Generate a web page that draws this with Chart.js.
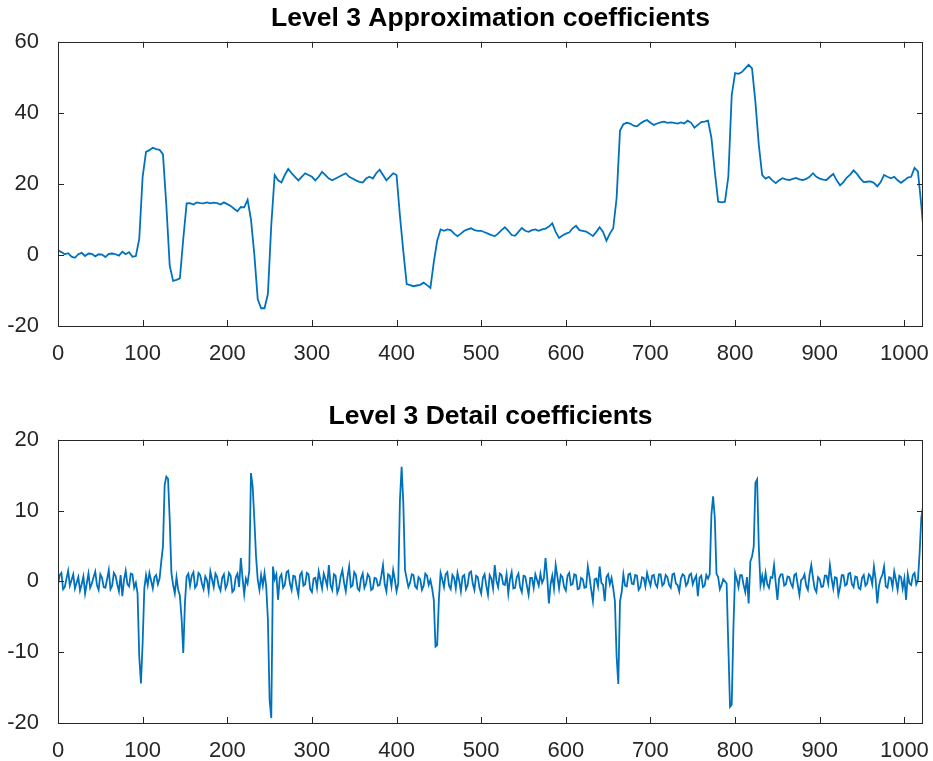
<!DOCTYPE html>
<html>
<head>
<meta charset="utf-8">
<script src="https://cdn.jsdelivr.net/npm/chart.js@4"></script>
<style>
  html, body { margin: 0; padding: 0; background: #fff; }
  #wrap { position: relative; width: 933px; height: 761px; }
  canvas { position: absolute; left: 0; }
</style>
</head>
<body>
<div id="wrap">
  <canvas id="approx" width="933" height="380" style="top:0"></canvas>
  <canvas id="detail" width="933" height="381" style="top:380px"></canvas>
</div>
<script>
// values: approximation every 4 coefficients,
// detail every 2 coefficients (both start at x = 0)
const approxStep = 4;
const detailStep = 2;
const xMax = 1022;

const xTicks = [0, 100, 200, 300, 400, 500, 600, 700, 800, 900, 1000];
const approxTicks = [-20, 0, 20, 40, 60];
const detailTicks = [-20, -10, 0, 10, 20];

const approxValues = [
  1.3, 0.8, 0.2, 0.5, -0.5, -0.8, 0.2, 0.6, -0.3, 0.4,
  0.3, -0.4, 0.2, 0.1, -0.6, 0.3, 0.4, 0.2, -0.2, 0.9,
  0.2, 0.8, -0.5, -0.3, 4.5, 22.0, 29.0, 29.5, 30.2, 29.8,
  29.6, 28.3, 14.0, -3.0, -7.3, -7.0, -6.6, 4.5, 14.5, 14.6,
  14.2, 14.8, 14.6, 14.5, 14.8, 14.5, 14.7, 14.6, 14.2, 14.8,
  14.3, 13.8, 13.0, 12.3, 13.5, 13.4, 15.5, 10.0, 0.0, -12.5,
  -15.0, -15.0, -11.0, 8.5, 22.5, 21.0, 20.4, 22.5, 24.2, 23.0,
  22.0, 21.0, 22.0, 23.0, 22.5, 22.0, 21.0, 22.0, 23.4, 22.5,
  21.5, 21.0, 21.5, 22.0, 22.5, 23.0, 22.0, 21.5, 21.0, 20.6,
  20.4, 21.5, 22.0, 21.5, 23.0, 24.0, 22.5, 21.0, 22.0, 23.0,
  22.5, 11.0, 1.0, -8.2, -8.5, -8.8, -8.6, -8.4, -7.8, -8.5,
  -9.3, -2.0, 4.0, 7.2, 6.8, 7.2, 7.0, 6.0, 5.3, 6.0,
  6.8, 7.2, 7.5, 7.0, 6.8, 6.8, 6.4, 6.0, 5.6, 5.3,
  6.0, 7.0, 7.8, 6.8, 5.6, 5.4, 6.5, 7.6, 6.8, 6.5,
  7.0, 7.2, 6.8, 7.2, 7.4, 8.0, 8.9, 6.5, 4.8, 5.5,
  6.0, 6.3, 7.5, 8.2, 7.0, 6.8, 6.6, 6.0, 5.3, 6.5,
  7.8, 6.5, 4.0, 6.0, 7.5, 16.0, 35.0, 36.8, 37.2, 37.0,
  36.4, 36.2, 37.0, 37.6, 38.0, 37.2, 36.6, 37.0, 37.3, 37.5,
  37.2, 37.3, 37.2, 37.0, 37.3, 37.0, 37.8, 37.2, 35.8, 36.6,
  37.4, 37.5, 37.8, 33.0, 23.5, 15.0, 14.8, 15.0, 22.0, 45.0,
  51.2, 51.0, 51.5, 52.5, 53.5, 52.5, 43.0, 31.0, 22.5, 21.5,
  22.0, 21.0, 20.2, 21.0, 21.6, 21.3, 21.1, 21.4, 21.7, 21.3,
  21.1, 21.4, 22.0, 23.0, 22.0, 21.5, 21.2, 21.1, 22.0, 22.8,
  21.0, 19.6, 20.5, 21.8, 22.6, 23.8, 22.8, 21.5, 20.5, 20.6,
  20.7, 20.3, 19.3, 20.5, 22.5, 22.0, 21.6, 22.0, 21.0, 20.3,
  21.0, 21.8, 22.0, 24.5, 23.5, 14.0, 3.0
];

const detailValues = [
  -0.5, 0.9, 1.2, -1.1, -0.8, 0.4, 1.5, -0.6, 0.2, 1.0, -1.0, -0.2, 0.6, -1.3, -0.4, 0.7, -1.7, -0.3, 1.1, -0.9,
  -0.3, 0.6, 1.4, -0.5, -1.2, 1.0, 0.5, -0.8, -0.9, 0.3, 1.6, -1.1, -0.6, 1.2, 0.8, -0.4, -1.4, 0.9, -2.1, 0.2,
  1.5, -0.4, -0.7, 1.1, 1.0, -0.9, -0.2, -1.7, -10.6, -14.4, -8.7, -1.0, 0.9, -0.5, 1.2, 0.1, -1.0, 0.6, 0.9, -0.4,
  0.4, 2.8, 4.9, 13.6, 14.8, 14.5, 8.7, 1.2, -0.5, -1.7, 0.6, -1.2, -2.0, -5.2, -10.1, -3.0, 0.7, 1.1, -0.6, 0.8,
  1.3, -0.9, -0.5, 1.2, 0.9, -0.3, -1.1, 0.7, 0.2, -1.4, 1.4, 0.3, -0.8, 1.1, 0.6, -0.7, -1.3, 0.5, 1.0, -1.0,
  -0.4, 1.2, 0.8, -1.5, -1.2, 0.6, 1.1, -0.8, 3.3, 0.5, -1.8, 0.4, -0.3, 1.5, 15.3, 13.4, 8.7, 3.5, 0.2, -1.2,
  0.9, -0.6, 1.2, -0.7, -5.4, -16.7, -19.3, 2.1, 0.3, 1.0, -2.6, 0.5, 1.0, -0.9, -0.5, 1.3, 1.5, -0.3, -1.2, 0.8,
  0.7, -0.8, -1.9, 0.9, 1.3, -0.6, -0.4, 1.2, 1.0, -1.1, -1.5, 0.4, 0.5, -0.9, 1.4, 0.2, -1.0, 1.1, 0.3, -0.7,
  2.3, -0.5, -1.2, 1.0, 0.8, -1.6, -0.9, 0.7, 1.6, -0.2, -1.4, 0.6, 2.1, -0.8, -0.6, 1.3, 0.9, -1.0, -1.3, 0.4,
  1.1, -0.9, -0.3, 1.0, 0.6, -1.2, -1.0, 0.5, 0.4, -0.6, -0.5, 0.8, 2.3, -0.4, -1.4, 1.0, 0.8, -0.7, 1.6, 0.2,
  -1.4, -0.3, 11.5, 16.2, 11.0, 1.6, 0.4, -0.8, -0.2, 1.0, 0.9, -0.7, -1.0, 0.6, 0.3, -1.2, -0.6, 1.1, 0.8, -0.5,
  0.2, -1.0, -2.6, -9.2, -9.0, -2.6, 1.2, 0.3, -0.8, 1.0, 1.3, -0.6, -1.1, 0.9, 0.5, -1.0, 1.2, 0.1, -1.4, 0.7,
  0.9, -1.1, -0.5, 1.2, 1.4, -0.3, -1.2, 0.8, 0.6, -0.9, -1.7, 0.5, 1.0, -0.6, -1.9, 0.9, 0.4, -1.0, 2.3, 0.1,
  -0.8, 1.1, 0.9, -0.4, -0.5, 1.0, -1.7, 0.3, 1.3, -1.0, -0.9, 0.6, 1.1, -0.8, -1.5, 0.8, 0.7, -0.6, -1.9, 0.5,
  0.5, -0.9, 1.0, 0.2, -0.6, 1.1, -0.2, 0.4, 3.3, 0.6, -3.1, -0.4, 0.8, -1.0, 2.3, 0.7, -1.0, 0.9, 0.6, -0.8,
  -1.3, 0.8, 1.2, -0.5, -0.4, 1.0, 0.9, -1.1, -1.0, 0.5, 0.3, -0.9, -0.8, 2.1, 0.6, -1.2, -2.8, 0.3, 0.4, -0.7,
  2.1, -0.2, -0.5, -2.8, 0.6, 1.0, -0.4, 0.5, -1.0, -2.8, -10.6, -14.5, -2.8, -1.5, 1.0, -0.6, -0.7, 1.0, 1.1, -0.3,
  -0.4, 0.9, 0.8, -1.2, -0.8, 0.6, 0.5, -0.7, 1.2, 0.2, -0.6, 0.8, 0.9, -0.4, -0.8, 1.0, 1.0, -0.6, -0.3, 0.9,
  0.6, -0.5, -0.9, 1.0, 1.1, -0.3, -0.5, -1.4, 0.4, 1.0, 0.8, -0.6, -0.2, 0.9, 1.1, -0.4, 0.3, 0.8, -2.1, 0.5,
  0.8, -0.8, -0.6, 0.9, 0.4, 1.0, 9.4, 12.0, 9.0, 1.1, 0.6, -1.1, -0.5, 0.3, 0.0, -0.3, -9.2, -17.7, -17.4, -6.6,
  1.2, 0.3, -0.8, 0.9, 0.9, -0.5, -1.5, 0.6, -3.1, 2.8, 3.5, 4.9, 13.9, 14.4, 4.9, -0.5, 0.8, -0.6, 1.2, -0.4,
  -0.9, 0.6, 0.5, 2.3, -0.2, -2.6, 0.4, 1.0, 1.0, -0.6, -0.4, 0.7, 0.6, -0.3, -0.8, 0.9, 1.1, -0.5, -1.9, 0.2,
  0.4, 1.0, -0.6, -1.2, 1.0, 2.3, 0.5, -1.0, -1.5, 0.6, 0.3, -0.8, -0.7, 0.8, 0.8, -0.3, 2.3, 0.4, -1.0, 0.6,
  0.5, -1.9, -0.8, 0.9, 0.9, -0.6, -0.4, 1.1, 1.2, -0.4, -0.8, 0.7, 0.6, -0.9, -1.1, 0.5, 0.9, -0.6, -0.3, 1.0,
  0.7, -0.4, 2.1, 0.3, -3.1, -0.6, 0.4, 0.9, 2.1, -0.7, -0.9, 0.6, 0.5, -0.8, 1.4, 0.2, -1.2, 0.8, 0.6, -1.0,
  0.4, -2.6, 1.0, -0.3, -0.5, 0.9, 1.2, -0.4, 0.2, 4.0, 9.0, 10.5, 11.0
];

const lineColor = "#0072BD";
const axisColor = "#262626";
const fontFamily = "'Liberation Sans', Arial, Helvetica, sans-serif";

function toPoints(vals, step){
  return vals.map((v, i) => ({ x: i * step, y: v }));
}

// MATLAB style box with inward ticks on all four sides
const matlabBox = {
  id: "matlabBox",
  afterDatasetsDraw(chart){
    const { ctx, chartArea: a, scales } = chart;
    const len = 6;
    ctx.save();
    ctx.strokeStyle = axisColor;
    ctx.lineWidth = 1;
    ctx.beginPath();
    scales.x.ticks.forEach(t => {
      const px = Math.round(scales.x.getPixelForValue(t.value)) + 0.5;
      ctx.moveTo(px, a.bottom); ctx.lineTo(px, a.bottom - len);
      ctx.moveTo(px, a.top); ctx.lineTo(px, a.top + len);
    });
    scales.y.ticks.forEach(t => {
      const py = Math.round(scales.y.getPixelForValue(t.value)) + 0.5;
      ctx.moveTo(a.left, py); ctx.lineTo(a.left + len, py);
      ctx.moveTo(a.right, py); ctx.lineTo(a.right - len, py);
    });
    ctx.stroke();
    ctx.strokeRect(Math.round(a.left) + 0.5, Math.round(a.top) + 0.5,
      Math.round(a.right - a.left) - 1, Math.round(a.bottom - a.top));
    ctx.restore();
  }
};

function makeChart(id, title, values, step, yTicks, titlePad, axisHeight){
  return new Chart(document.getElementById(id), {
    type: "line",
    data: {
      datasets: [{
        data: toPoints(values, step),
        borderColor: lineColor,
        borderWidth: 1.8,
        pointRadius: 0,
        tension: 0,
        fill: false
      }]
    },
    options: {
      responsive: false,
      animation: false,
      devicePixelRatio: 1,
      layout: { padding: { left: 0, right: 10, top: 0, bottom: 0 } },
      plugins: {
        legend: { display: false },
        tooltip: { enabled: false },
        title: {
          display: true,
          text: title,
          fullSize: false,
          color: "#000",
          font: { family: fontFamily, size: 26.5, weight: "bold", lineHeight: 1.2 },
          padding: titlePad
        }
      },
      scales: {
        x: {
          type: "linear",
          min: 0,
          max: xMax,
          grid: { display: false },
          border: { display: false },
          afterBuildTicks: s => { s.ticks = xTicks.map(v => ({ value: v })); },
          afterFit: s => {
            s.height = axisHeight;
            s.paddingLeft = 0;
            s.paddingRight = 0;
          },
          ticks: {
            color: axisColor,
            font: { family: fontFamily, size: 22 },
            padding: 7,
            autoSkip: false,
            maxRotation: 0,
            callback: v => String(v)
          }
        },
        y: {
          min: yTicks[0],
          max: yTicks[yTicks.length - 1],
          grid: { display: false },
          border: { display: false },
          afterBuildTicks: s => { s.ticks = yTicks.map(v => ({ value: v })); },
          afterFit: s => { s.width = 58; },
          ticks: {
            color: axisColor,
            font: { family: fontFamily, size: 22 },
            padding: 11,
            callback: v => String(v)
          }
        }
      }
    },
    plugins: [matlabBox]
  });
}

makeChart("approx", "Level 3 Approximation coefficients", approxValues, approxStep,
  approxTicks, { top: 3, bottom: 7 }, 54);
makeChart("detail", "Level 3 Detail coefficients", detailValues, detailStep,
  detailTicks, { top: 21, bottom: 7 }, 38);
</script>
</body>
</html>
